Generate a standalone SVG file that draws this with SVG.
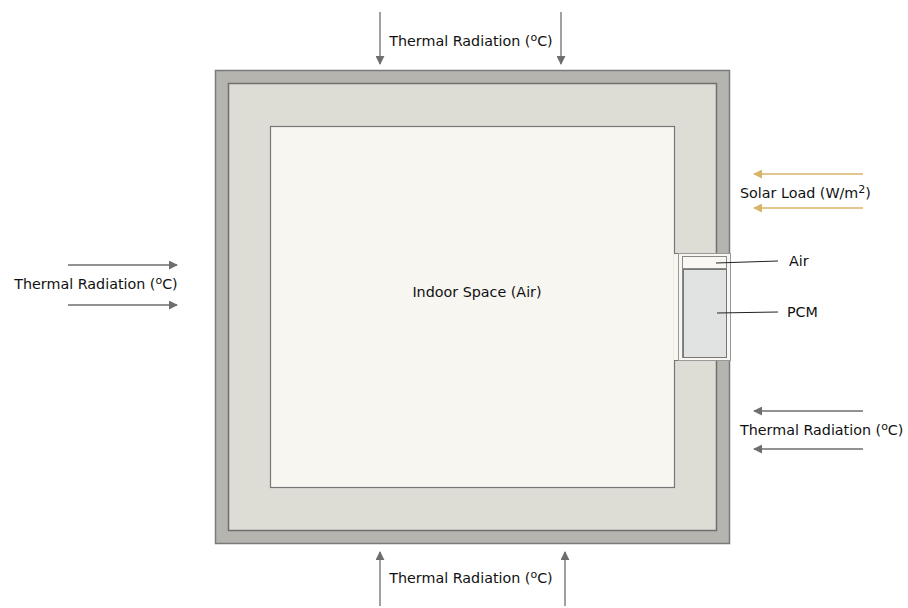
<svg xmlns="http://www.w3.org/2000/svg" width="908" height="608" viewBox="0 0 908 608">
<style>
text{font-family:"DejaVu Sans",Verdana,sans-serif;font-size:14.3px;fill:#111}
.c{text-anchor:middle}
.ar{stroke:#6e6e6e;stroke-width:1.3;fill:none}
.sol{stroke:#d8b368;stroke-width:1.5;fill:none}
.ld{stroke:#222;stroke-width:1;fill:none}
</style>
<defs>
<marker id="ag" viewBox="0 0 10 10" refX="9" refY="5" markerWidth="9" markerHeight="9" markerUnits="userSpaceOnUse" orient="auto"><path d="M0,0L10,5L0,10z" fill="#6e6e6e"/></marker>
<marker id="ay" viewBox="0 0 10 10" refX="9" refY="5" markerWidth="9" markerHeight="9" markerUnits="userSpaceOnUse" orient="auto"><path d="M0,0L10,5L0,10z" fill="#d8b368"/></marker>
</defs>
<rect width="908" height="608" fill="#fff"/>
<g id="building">
<rect x="215.5" y="70.5" width="514" height="473" fill="#b6b4ae" stroke="#7a7a7a" stroke-width="1.5"/>
<rect x="228.5" y="83.5" width="488" height="447" fill="#dddcd5" stroke="#6f6f6f" stroke-width="1.5"/>
</g>
<g id="indoor">
<rect x="270.5" y="126.5" width="404" height="361" fill="#f7f6f1" stroke="#777" stroke-width="1.2"/>
<text class="c" x="477" y="297">Indoor Space (Air)</text>
</g>
<g id="window">
<rect x="674" y="253.5" width="57" height="107" fill="#f7f6f1"/>
<line x1="674" y1="253.5" x2="730" y2="253.5" stroke="#777" stroke-width="1.2"/>
<line x1="674" y1="360.5" x2="730" y2="360.5" stroke="#777" stroke-width="1.2"/>
<rect x="678.5" y="253.5" width="52" height="107" fill="#f7f6f1" stroke="#999" stroke-width="1"/>
<rect x="682.5" y="256.5" width="44" height="101" fill="none" stroke="#888" stroke-width="1"/>
</g>
<g id="air">
<rect x="682.5" y="256.5" width="44" height="12" fill="#f8f7f1" stroke="#888" stroke-width="1"/>
<text x="789" y="266">Air</text>
</g>
<g id="pcm">
<rect x="683.5" y="269.5" width="43" height="88" fill="#e1e3e2" stroke="#777" stroke-width="1"/>
<text x="787" y="317">PCM</text>
</g>
<g id="top-label"><text class="c" x="471" y="46">Thermal Radiation (<tspan font-size="11" dy="-5">o</tspan><tspan dy="5">C)</tspan></text></g>
<g id="bottom-label"><text class="c" x="471" y="583">Thermal Radiation (<tspan font-size="11" dy="-5">o</tspan><tspan dy="5">C)</tspan></text></g>
<g id="left-label"><text class="c" x="96" y="289">Thermal Radiation (<tspan font-size="11" dy="-5">o</tspan><tspan dy="5">C)</tspan></text></g>
<g id="solar-label"><text x="740" y="198">Solar Load (W/m<tspan font-size="11" dy="-5">2</tspan><tspan dy="5">)</tspan></text></g>
<g id="right-label"><text x="740" y="435">Thermal Radiation (<tspan font-size="11" dy="-5">o</tspan><tspan dy="5">C)</tspan></text></g>
<g id="connectors">
<line class="ar" x1="380" y1="12" x2="380" y2="64" marker-end="url(#ag)"/>
<line class="ar" x1="561" y1="12" x2="561" y2="64" marker-end="url(#ag)"/>
<line class="ar" x1="380" y1="606" x2="380" y2="552" marker-end="url(#ag)"/>
<line class="ar" x1="565" y1="606" x2="565" y2="552" marker-end="url(#ag)"/>
<line class="ar" x1="68" y1="265" x2="177" y2="265" marker-end="url(#ag)"/>
<line class="ar" x1="68" y1="305" x2="177" y2="305" marker-end="url(#ag)"/>
<line class="sol" x1="863" y1="174" x2="754" y2="174" marker-end="url(#ay)"/>
<line class="sol" x1="863" y1="208" x2="754" y2="208" marker-end="url(#ay)"/>
<line class="ar" x1="863" y1="411" x2="754" y2="411" marker-end="url(#ag)"/>
<line class="ar" x1="863" y1="449" x2="754" y2="449" marker-end="url(#ag)"/>
<line class="ld" x1="716" y1="263" x2="778" y2="261"/>
<line class="ld" x1="717" y1="313" x2="778" y2="312"/>
</g>
</svg>
